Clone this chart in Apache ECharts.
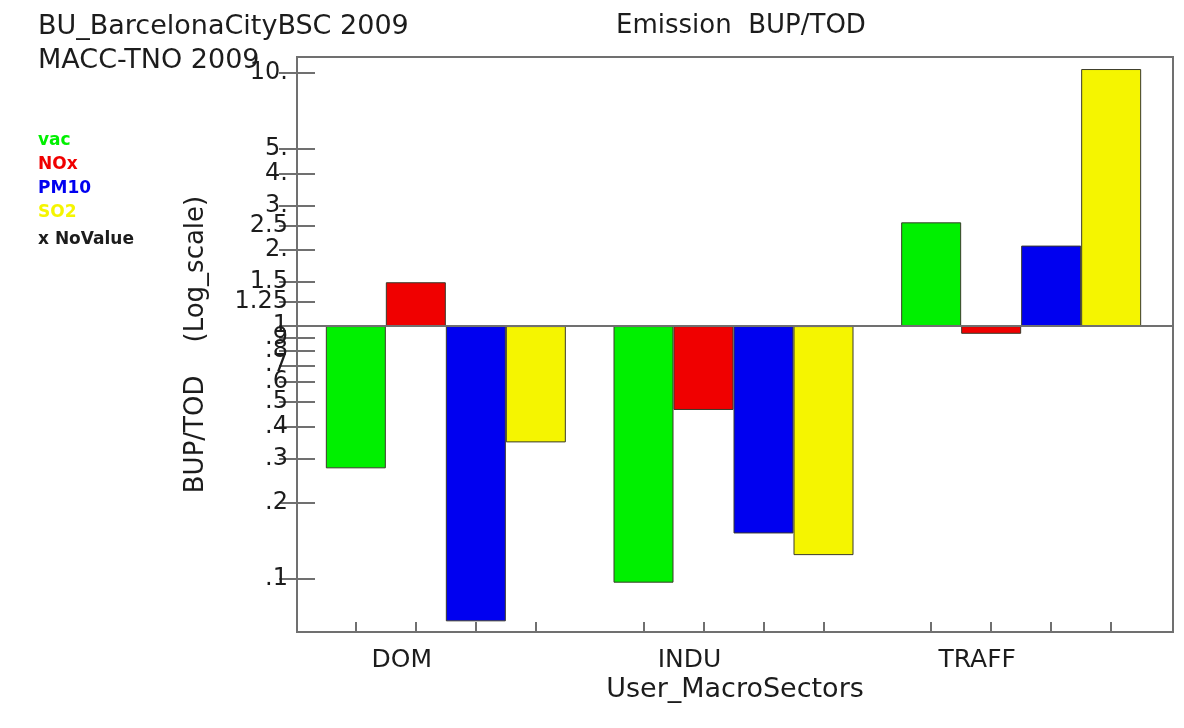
<!DOCTYPE html>
<html>
<head>
<meta charset="utf-8">
<script src="https://cdn.jsdelivr.net/npm/echarts@6/dist/echarts.min.js"></script>
<style>
  html, body { margin: 0; padding: 0; background: #ffffff; }
  #chart { width: 1184px; height: 728px; }
</style>
</head>
<body>
<div id="chart"></div>
<script>
// Emission ratio BUP/TOD per macro sector, log scale, bars grow from 1
const sectors = ['DOM', 'INDU', 'TRAFF'];
const pollutants = ['vac', 'NOx', 'PM10', 'SO2'];
const pollutantColors = ['#00f000', '#f00000', '#0000f0', '#f5f500'];

const vacRatio  = [0.274, 0.0968, 2.57];
const noxRatio  = [1.49, 0.466, 0.932];
const pm10Ratio = [0.0681, 0.1515, 2.08];
const so2Ratio  = [0.347, 0.1244, 10.37];

const tickValues = [10, 5, 4, 3, 2.5, 2, 1.5, 1.25, 1, 0.9, 0.8, 0.7, 0.6, 0.5, 0.4, 0.3, 0.2, 0.1];
const tickLabels = ['10.', '5.', '4.', '3.', '2.5', '2.', '1.5', '1.25', '1', '.9', '.8', '.7', '.6', '.5', '.4', '.3', '.2', '.1'];

const yMin = 0.0618;
const yMax = 11.57;

// layout: an outer frame grid carrying the scales, and an inner grid for the bar groups
const W = 1184, H = 728;
const frameGrid = { left: 297, top: 57, right: 11, bottom: 96 };
const barGrid = { left: 302, top: 57, right: 19, bottom: 96 };
const barPlotW = W - barGrid.left - barGrid.right;
const barPx = 60;
const catPx = barPlotW / sectors.length;
const barFrac = barPx / catPx;
const font = 'DejaVu Sans';
const ink = '#1c1c1c';
const frame = '#707070';

const seriesValues = [vacRatio, noxRatio, pm10Ratio, so2Ratio];

// tick marks under each bar centre on a helper value axis spanning the categories
const barCentres = [];
sectors.forEach((s, i) => {
  pollutants.forEach((p, j) => {
    barCentres.push(i + 0.5 + (j - (pollutants.length - 1) / 2) * barFrac);
  });
});

const labelOf = v => {
  const k = tickValues.findIndex(t => Math.abs(t - v) < 1e-9);
  return k >= 0 ? tickLabels[k] : '';
};

const logAxisBase = {
  type: 'log',
  logBase: 10,
  min: yMin,
  max: yMax,
  axisLine: { show: false },
  splitLine: { show: false },
  minorTick: { show: false }
};

const series = pollutants.map((name, j) => ({
  name: name,
  type: 'bar',
  xAxisIndex: 2,
  yAxisIndex: 2,
  data: seriesValues[j],
  barWidth: (barFrac * 100) + '%',
  barGap: '0%',
  itemStyle: { color: pollutantColors[j], borderColor: '#3a3a2a', borderWidth: 1 },
  emphasis: { disabled: true }
}));

// reference line at ratio 1 across the whole frame
series.push({
  name: 'ratio1',
  type: 'line',
  xAxisIndex: 0,
  yAxisIndex: 0,
  data: [],
  silent: true,
  markLine: {
    silent: true,
    symbol: 'none',
    label: { show: false },
    lineStyle: { color: frame, type: 'solid', width: 2 },
    data: [{ yAxis: 1 }]
  },
  z: 5
});

const chart = echarts.init(document.getElementById('chart'), null, { renderer: 'canvas' });
chart.setOption({
  backgroundColor: '#ffffff',
  animation: false,
  textStyle: { fontFamily: font },
  title: [
    { text: 'BU_BarcelonaCityBSC 2009', left: 33, top: 8,
      textStyle: { fontFamily: font, fontSize: 27, fontWeight: 'normal', color: ink } },
    { text: 'MACC-TNO 2009', left: 33, top: 42,
      textStyle: { fontFamily: font, fontSize: 27, fontWeight: 'normal', color: ink } },
    { text: 'Emission  BUP/TOD', left: 611, top: 8,
      textStyle: { fontFamily: font, fontSize: 26, fontWeight: 'normal', color: ink } },
    { text: 'x NoValue', left: 33, top: 226,
      textStyle: { fontFamily: font, fontSize: 17, fontWeight: 'bold', color: ink } }
  ],
  legend: {
    orient: 'vertical',
    left: 33,
    top: 127,
    itemWidth: 0,
    itemHeight: 14,
    itemGap: 7,
    selectedMode: false,
    itemStyle: { opacity: 0, borderWidth: 0 },
    data: pollutants.map((p, j) => ({
      name: p,
      textStyle: { color: pollutantColors[j], fontFamily: font, fontSize: 17, fontWeight: 'bold', padding: [0, 0, 0, -5] }
    }))
  },
  grid: [
    {
      left: frameGrid.left, top: frameGrid.top, right: frameGrid.right, bottom: frameGrid.bottom,
      show: true, borderColor: frame, borderWidth: 2, backgroundColor: 'transparent'
    },
    {
      left: barGrid.left, top: barGrid.top, right: barGrid.right, bottom: barGrid.bottom,
      show: false
    }
  ],
  xAxis: [
    {
      gridIndex: 0,
      type: 'value',
      min: 0,
      max: 1,
      show: false
    },
    {
      gridIndex: 1,
      type: 'value',
      min: 0,
      max: sectors.length,
      position: 'bottom',
      axisLine: { show: false },
      splitLine: { show: false },
      axisLabel: { show: false },
      axisTick: { show: true, inside: true, length: 10, customValues: barCentres,
        lineStyle: { color: frame, width: 2 } }
    },
    {
      gridIndex: 1,
      type: 'category',
      data: sectors,
      position: 'bottom',
      axisLine: { show: false },
      axisTick: { show: false },
      splitLine: { show: false },
      axisLabel: { color: ink, fontSize: 25, fontFamily: font, margin: 16, padding: [0, 88, 0, 0] }
    },
    {
      gridIndex: 0,
      type: 'value',
      min: 0,
      max: 1,
      position: 'bottom',
      axisLine: { show: false },
      axisTick: { show: false },
      axisLabel: { show: false },
      splitLine: { show: false },
      name: 'User_MacroSectors',
      nameLocation: 'middle',
      nameGap: 44,
      nameTextStyle: { color: ink, fontSize: 27, fontFamily: font }
    }
  ],
  yAxis: [
    Object.assign({}, logAxisBase, {
      gridIndex: 0,
      position: 'left',
      axisTick: { show: true, inside: true, length: 18, customValues: tickValues,
        lineStyle: { color: frame, width: 2 } },
      axisLabel: { show: true, customValues: tickValues, formatter: v => labelOf(v),
        color: ink, fontSize: 24, fontFamily: font, margin: 9 },
      name: 'BUP/TOD    (Log_scale)',
      nameLocation: 'middle',
      nameGap: 88,
      nameTextStyle: { color: ink, fontSize: 26, fontFamily: font }
    }),
    Object.assign({}, logAxisBase, {
      gridIndex: 0,
      position: 'right',
      axisLabel: { show: false },
      axisTick: { show: true, inside: true, length: 18, customValues: tickValues,
        lineStyle: { color: frame, width: 2 } }
    }),
    Object.assign({}, logAxisBase, {
      gridIndex: 1,
      show: false
    })
  ],
  series: series
});
</script>
</body>
</html>
